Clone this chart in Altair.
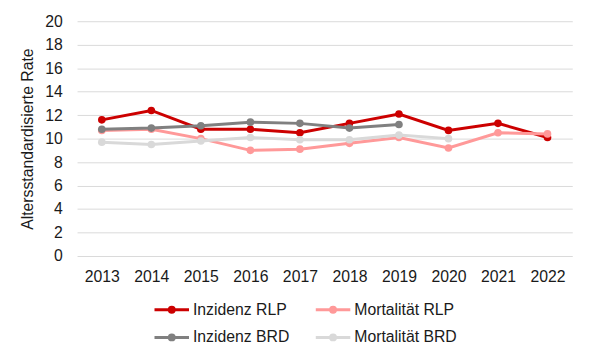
import altair as alt
import pandas as pd

years = ["2013", "2014", "2015", "2016", "2017", "2018", "2019", "2020", "2021", "2022"]
inzidenz_rlp = [11.6, 12.4, 10.8, 10.8, 10.5, 11.3, 12.1, 10.7, 11.3, 10.1]
mortalitaet_rlp = [10.7, 10.8, 10.0, 9.0, 9.1, 9.6, 10.1, 9.2, 10.5, 10.4]
inzidenz_brd = [10.8, 10.9, 11.1, 11.4, 11.3, 10.9, 11.2, None, None, None]
mortalitaet_brd = [9.7, 9.5, 9.8, 10.1, 9.9, 9.9, 10.3, 10.0, None, None]

series_names = ["Inzidenz RLP", "Mortalität RLP", "Inzidenz BRD", "Mortalität BRD"]
series_colors = ["#cc0000", "#ff9999", "#808080", "#d9d9d9"]
series_values = [inzidenz_rlp, mortalitaet_rlp, inzidenz_brd, mortalitaet_brd]

rows = []
for name, vals in zip(series_names, series_values):
    for y, v in zip(years, vals):
        if v is not None:
            rows.append({"Jahr": y, "Rate": v, "Serie": name})
df = pd.DataFrame(rows)

text_color = "#1a1a1a"
font = "Liberation Sans"
fs = 16

x_enc = alt.X("Jahr:O", sort=years,
              scale=alt.Scale(type="point", padding=0.5, domain=years),
              axis=alt.Axis(title=None, labelAngle=0, ticks=False, domain=False,
                            grid=False, labelPadding=13, labelFontSize=fs,
                            labelColor=text_color, labelFont=font))
y_enc = alt.Y("Rate:Q",
              scale=alt.Scale(domain=[0, 20], nice=False, zero=True),
              axis=alt.Axis(title="Altersstandardisierte Rate", values=list(range(0, 21, 2)),
                            ticks=False, domain=False, grid=True, gridColor="#d9d9d9",
                            labelPadding=15, labelFontSize=fs, labelColor=text_color,
                            labelFont=font, titleFont=font, titleFontSize=fs,
                            titleFontWeight="normal", titleColor=text_color,
                            titlePadding=9))

symbol_path = "M-1.75,0L1.75,0M-0.25,0A0.25,0.25,0,1,0,0.25,0A0.25,0.25,0,1,0,-0.25,0Z"

color_scale = alt.Scale(domain=series_names, range=series_colors)

legend = alt.Legend(title=None, orient="none", legendX=84.5, legendY=281,
                    direction="horizontal", columns=2, symbolType=symbol_path,
                    symbolSize=400, symbolStrokeWidth=3, labelOffset=10,
                    labelFontSize=fs, labelFont=font, labelColor=text_color,
                    columnPadding=20.5, rowPadding=8, padding=0)

layers = []
for name, col in zip(series_names, series_colors):
    sub = alt.Chart(df).transform_filter(alt.datum.Serie == name)
    line = sub.mark_line(strokeWidth=3).encode(
        x=x_enc, y=y_enc,
        color=alt.Color("Serie:N", scale=color_scale, legend=legend, sort=series_names),
    )
    pts = sub.mark_point(filled=True, size=60, opacity=1, color=col).encode(x=x_enc, y=y_enc)
    layers.extend([line, pts])

chart = alt.layer(*layers).properties(
    width=502, height=238,
    autosize=alt.AutoSizeParams(type="none"),
    padding={"left": 70, "top": 11, "right": 20, "bottom": 104},
    background="white",
).configure_view(stroke=None)

chart.save("out.html", embed_options={"renderer": "svg", "actions": False})
